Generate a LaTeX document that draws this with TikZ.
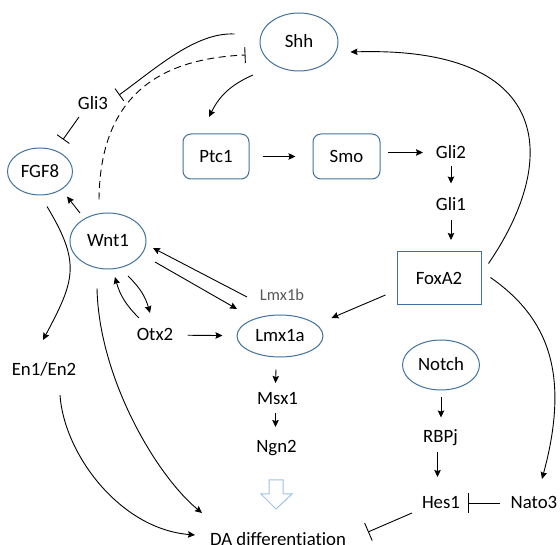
\documentclass[tikz,border=0pt]{standalone}
\usepackage{fontspec}
\setmainfont{Carlito}[Ligatures=NoCommon]
\usetikzlibrary{shapes.geometric,arrows.meta}
\definecolor{ringblue}{HTML}{41719C}
\definecolor{paleblue}{HTML}{9DC3E6}
\definecolor{softgray}{HTML}{595959}
\begin{document}
\begin{tikzpicture}
[x=1pt, y=1pt, font=\fontsize{18.8}{22}\selectfont, line width=0.9pt]
\tikzstyle{gene}=[ellipse, draw=ringblue, line width=1pt, inner sep=0pt, text height=12pt, text depth=0pt]
\tikzstyle{recep}=[rectangle, draw=ringblue, line width=1pt, inner sep=0pt, text height=12pt, text depth=0pt]
\tikzstyle{factor}=[inner sep=0pt, text height=12pt, text depth=0pt]
\tikzstyle{act}=[-{Stealth[length=7pt,width=6.5pt,inset=1pt]}]
\tikzstyle{inh}=[-{Bar[width=15pt]}]

\useasboundingbox (0,0) rectangle (560,544);

\node[gene, minimum width=78pt, minimum height=58pt]	(Shh)	at (299,502)	{Shh};
\node[gene, minimum width=65pt, minimum height=47pt]	(FGF8)	at (40,372.5)	{FGF8};
\node[gene, minimum width=76pt, minimum height=56pt]	(Wnt1)	at (108,303)	{Wnt1};
\node[gene, minimum width=86pt, minimum height=42pt]	(Lmx1a)	at (280,208)	{Lmx1a};
\node[gene, minimum width=77pt, minimum height=50pt]	(Notch)	at (441,179)	{Notch};

\node[recep, rounded corners=8pt, minimum width=66pt, minimum height=45pt]	(Ptc1)	at (216,387.5)	{Ptc1};
\node[recep, rounded corners=8pt, minimum width=67pt, minimum height=45pt]	(Smo)	at (346.5,387.5)	{Smo};
\node[recep, minimum width=84pt, minimum height=53pt]	(FoxA2)	at (439,265.5)	{FoxA2};

\node[factor]	(Gli2)	at (451,391.5)	{Gli2};
\node[factor]	(Gli1)	at (451,339)	{Gli1};
\node[factor]	(Gli3)	at (93,440.5)	{Gli3};
\node[factor, text=softgray, font=\fontsize{16.5}{20}\selectfont]	(Lmx1b)	at (282,249)	{Lmx1b};
\node[factor]	(Otx2)	at (155,209)	{Otx2};
\node[factor]	(En)	at (44,174.5)	{En1/En2};
\node[factor]	(Msx1)	at (277.5,145)	{Msx1};
\node[factor]	(Ngn2)	at (276.5,97)	{Ngn2};
\node[factor]	(RBPj)	at (440.5,107)	{RBPj};
\node[factor]	(Hes1)	at (441,41)	{Hes1};
\node[factor]	(Nato3)	at (534,41)	{Nato3};
\node[factor]	(DA)	at (278,5)	{DA differentiation};

% hedgehog branch
\draw[act] ([xshift=-46pt,yshift=-33pt]Shh.center) to[bend right=20] ([xshift=-7pt,yshift=16.5pt]Ptc1.north);
\draw[act, shorten <=13pt, shorten >=17pt] (Ptc1) -- (Smo);
\draw[act] ([xshift=7pt,yshift=4pt]Smo.east) -- ([xshift=-28pt]Gli2.center);
\draw[act] ([yshift=-14pt]Gli2.center) -- ++(0,-17pt);
\draw[act] ([yshift=-15pt]Gli1.center) -- ++(0,-20pt);
\draw[act] ([xshift=7pt,yshift=-12pt]FoxA2.north east) .. controls (562,388) and (550,498) .. ([xshift=12pt,yshift=-10pt]Shh.east);
\draw[act] ([xshift=9pt,yshift=1pt]FoxA2.east) .. controls (547,227) and (571,172) .. ([shift={(8pt,24pt)}]Nato3.center);
\draw[act] ([shift={(-11pt,-16.5pt)}]FoxA2.west) -- ([shift={(8pt,18pt)}]Lmx1a.east);

% isthmus signals
\draw[inh] ([shift={(-25pt,8pt)}]Shh.west) .. controls (195,512) and (154,474) .. ([shift={(26pt,8.5pt)}]Gli3.center);
\draw[inh] ([shift={(-14pt,-13.5pt)}]Gli3.center) -- ([shift={(23pt,32pt)}]FGF8.center);
\draw[-{Bar[width=16pt]}, dash pattern=on 7pt off 4.5pt] ([shift={(-9pt,13pt)}]Wnt1.north) .. controls (100,440) and (150,485) .. ([shift={(-14pt,-13pt)}]Shh.west);
\draw[act] ([shift={(-28pt,28pt)}]Wnt1.center) -- ([shift={(27pt,-25pt)}]FGF8.center);
\draw[act] ([shift={(7pt,-35pt)}]FGF8.center) .. controls (81,281) and (75,264) .. ([shift={(-1pt,29.5pt)}]En.center);
\draw[act] ([shift={(-16pt,17pt)}]Otx2.center) to[bend left=15] ([shift={(7pt,-36pt)}]Wnt1.center);
\draw[act] ([shift={(20pt,-35pt)}]Wnt1.center) to[bend left=15] ([shift={(-5pt,22pt)}]Otx2.center);
\draw[act] ([shift={(-35pt,-2pt)}]Lmx1b.center) -- ([shift={(45pt,-7pt)}]Wnt1.center);
\draw[act] ([shift={(47pt,-21pt)}]Wnt1.center) -- ([shift={(-43pt,27pt)}]Lmx1a.center);
\draw[act, shorten <=14pt, shorten >=14pt] (Otx2) -- (Lmx1a);
\draw[act] ([shift={(-4pt,-12pt)}]Lmx1a.south) -- ([shift={(-2pt,16pt)}]Msx1.center);
\draw[act] ([shift={(-2pt,-14pt)}]Msx1.center) -- ([shift={(-1pt,20pt)}]Ngn2.center);

% towards differentiation
\draw[act] ([shift={(-11pt,-19pt)}]Wnt1.south) .. controls (99,166) and (156,69) .. ([shift={(-76pt,26pt)}]DA.center);
\draw[act] ([shift={(16pt,-25.5pt)}]En.center) .. controls (64,90) and (120,15) .. ([shift={(-83pt,4pt)}]DA.center);
\draw[paleblue, line width=1pt, fill=white] (269,64) -- (283,64) -- (283,50) -- (292,50) -- (276,35) -- (261,50) -- (269,50) -- cycle;

% notch branch
\draw[act] ([yshift=-7pt]Notch.south) -- ++(0,-20pt);
\draw[act] ([shift={(-3pt,-15pt)}]RBPj.center) -- ++(0,-25pt);
\draw[-{Bar[width=20pt]}] ([xshift=-34pt]Nato3.center) -- ([xshift=27pt]Hes1.center);
\draw[-{Bar[width=19pt]}] ([shift={(-29pt,-10pt)}]Hes1.center) -- ([shift={(90pt,7pt)}]DA.center);
\end{tikzpicture}
\end{document}
